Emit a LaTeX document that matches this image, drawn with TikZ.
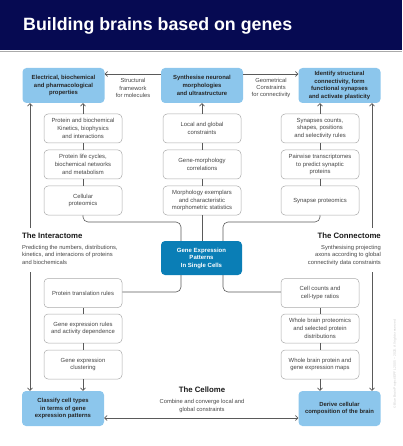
\documentclass[tikz,border=0pt]{standalone}
\usepackage{fontspec}
\setmainfont{Liberation Sans}
\usetikzlibrary{arrows.meta,calc}
\definecolor{navy}{RGB}{6,10,82}
\definecolor{lblue}{RGB}{140,198,236}
\definecolor{gblue}{RGB}{10,126,182}
\definecolor{lgray}{RGB}{170,170,170}
\definecolor{lcol}{RGB}{90,90,90}
\definecolor{tcol}{RGB}{70,70,70}
\begin{document}
\begin{tikzpicture}[x=1pt,y=-1pt,
  wbox/.style={draw=lgray, line width=0.5pt, rounded corners=4pt, minimum width=78pt, minimum height=29pt, align=center, inner sep=1pt, font=\fontsize{5.9}{7.7}\selectfont, text=tcol, fill=white},
  bbox/.style={fill=lblue, rounded corners=4pt, minimum width=82pt, minimum height=35pt, align=center, inner sep=1pt, font=\bfseries\fontsize{5.9}{7.8}\selectfont, text=black!85},
  conn/.style={draw=lcol, line width=0.6pt},
  arr/.style={conn, -{Straight Barb[length=2.5pt,width=5pt]}},
  lab/.style={align=center, inner sep=0pt, font=\fontsize{5.8}{7.4}\selectfont, text=tcol},
  sect/.style={inner sep=0pt, font=\bfseries\fontsize{7.8}{9}\selectfont, text=black!90},
]
\useasboundingbox (0,0) rectangle (402,446);
\fill[navy] (0,0) rectangle (402,50);
\draw[lgray, line width=0.8pt] (0,51) -- (402,51);
\node[anchor=base west, inner sep=0pt, text=white, font=\bfseries\fontsize{17.8}{20}\selectfont] (title) at (23,30.5) {Building brains based on genes};

% top boxes
\node[bbox] (elec) at (63.5,85.5) {Electrical, biochemical\\and pharmacological\\properties};
\node[bbox] (synth) at (202,85.5) {Synthesise neuronal\\morphologies\\and ultrastructure};
\node[bbox] (ident) at (339.5,85.5) {Identify structural\\connectivity, form\\functional synapses\\and activate plasticity};

% bottom boxes
\node[bbox] (classify) at (63,408.5) {Classify cell types\\in terms of gene\\expression patterns};
\node[bbox] (derive) at (339.5,408.5) {Derive cellular\\composition of the brain};

% centre
\node[fill=gblue, rounded corners=4pt, minimum width=81pt, minimum height=34pt, align=center, inner sep=1pt, font=\bfseries\fontsize{6}{7.5}\selectfont, text=white] (gep) at (201.5,258) {Gene Expression\\Patterns\\In Single Cells};

% left top column
\node[wbox] (L1) at (83,128.5) {Protein and biochemical\\Kinetics, biophysics\\and interactions};
\node[wbox] (L2) at (83,164.5) {Protein life cycles,\\biochemical networks\\and metabolism};
\node[wbox] (L3) at (83,200.5) {Cellular\\proteomics};
% middle column
\node[wbox] (M1) at (202,128.5) {Local and global\\constraints};
\node[wbox] (M2) at (202,164.5) {Gene-morphology\\correlations};
\node[wbox] (M3) at (202,200.5) {Morphology exemplars\\and characteristic\\morphometric statistics};
% right top column
\node[wbox] (R1) at (320,128.5) {Synapses counts,\\shapes, positions\\and selectivity rules};
\node[wbox] (R2) at (320,164.5) {Pairwise transcriptomes\\to predict synaptic\\proteins};
\node[wbox] (R3) at (320,200.5) {Synapse proteomics};
% left bottom column
\node[wbox] (B1) at (83,293) {Protein translation rules};
\node[wbox] (B2) at (83,328.5) {Gene expression rules\\and activity dependence};
\node[wbox] (B3) at (83,364.5) {Gene expression\\clustering};
% right bottom column
\node[wbox] (C1) at (320,293) {Cell counts and\\cell-type ratios};
\node[wbox] (C2) at (320,328.5) {Whole brain proteomics\\and selected protein\\distributions};
\node[wbox] (C3) at (320,364.5) {Whole brain protein and\\gene expression maps};

% top arrows and labels
\coordinate (ty) at (0,74);
\draw[arr] (synth.west |- ty) -- (elec.east |- ty);
\draw[arr] (synth.east |- ty) -- (ident.west |- ty);
\node[lab] (lab1) at (133,88) {Structural\\framework\\for molecules};
\node[lab] (lab2) at (271,88) {Geometrical\\Constraints\\for connectivity};

% column connectors
\draw[arr] (L1.north) -- (elec.south -| L1.north);
\draw[conn] (L1) -- (L2);
\draw[conn] (L2) -- (L3);
\draw[arr] (M1.north) -- (synth.south -| M1.north);
\draw[conn] (M1) -- (M2);
\draw[conn] (M2) -- (M3);
\draw[arr] (R1.north) -- (ident.south -| R1.north);
\draw[conn] (R1) -- (R2);
\draw[conn] (R2) -- (R3);
\draw[conn] (B1) -- (B2);
\draw[conn] (B2) -- (B3);
\draw[arr] (B3.south) -- (classify.north -| B3.south);
\draw[conn] (C1) -- (C2);
\draw[conn] (C2) -- (C3);
\draw[arr] (C3.south) -- (derive.north -| C3.south);

% connections to centre
\coordinate (gxl) at (181,222);
\coordinate (gxr) at (223,222);
\coordinate (gbl) at (181,292);
\coordinate (gbr) at (223,292);
\draw[conn, rounded corners=5pt] (L3.south) |- (gxl) -- (gep.north -| gxl);
\draw[conn, rounded corners=5pt] (R3.south) |- (gxr) -- (gep.north -| gxr);
\draw[conn] (M3.south) -- (gep.north -| M3.south);
\draw[conn, rounded corners=5pt] (gep.south -| gbl) -- (gbl) -- (B1.east |- gbl);
\draw[conn, rounded corners=5pt] (gep.south -| gbr) -- (gbr) -- (C1.west |- gbr);

% long side lines
\coordinate (lx1) at (30,228);
\coordinate (lx2) at (30,272);
\coordinate (rx1) at (372,228);
\coordinate (rx2) at (372,272);
\draw[arr] (lx1) -- (elec.south -| lx1);
\draw[arr] (lx2) -- (classify.north -| lx2);
\draw[arr] (rx1) -- (ident.south -| rx1);
\draw[arr] (rx2) -- (derive.north -| rx2);

% bottom arrow
\coordinate (by) at (0,418);
\draw[conn, {Straight Barb[length=2.5pt,width=5pt]}-{Straight Barb[length=2.5pt,width=5pt]}] (classify.east |- by) -- (derive.west |- by);

% section texts
\node[sect, anchor=west] (intt) at (22,236) {The Interactome};
\node[lab, anchor=north west, align=left] (intd) at (22,245) {Predicting the numbers, distributions,\\kinetics, and interacions of proteins\\and biochemicals};
\node[sect, anchor=east] (cont) at (381,236) {The Connectome};
\node[lab, anchor=north east, align=right] (cond) at (381,245) {Synthesising projecting\\axons according to global\\connectivity data constraints};
\node[sect] (cellt) at (202,390) {The Cellome};
\node[lab, anchor=north] (celld) at (202,399.5) {Combine and converge local and\\global constraints};

% copyright
\node[rotate=90, inner sep=0pt, font=\fontsize{3.4}{4}\selectfont, text=black!20] (copy) at (395,364) {©Blue Brain Project/EPFL 2005 – 2020. All rights reserved};
\end{tikzpicture}
\end{document}
